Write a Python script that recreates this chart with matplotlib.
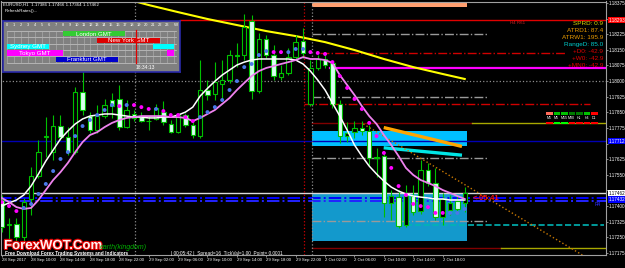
import numpy as np
import matplotlib
matplotlib.use("Agg")
import matplotlib.pyplot as plt
import matplotlib.transforms as mtransforms
import matplotlib.patheffects as pe
from matplotlib.patches import Rectangle

plt.rcParams['font.family'] = ['Liberation Sans', 'DejaVu Sans']

# EURUSD H1, bar 0 = 28 Sep 2017 06:00
opens = [1.17429, 1.17309, 1.17314, 1.17251, 1.17434, 1.17544, 1.17731, 1.17659, 1.17784, 1.17731,
         1.17659, 1.17947, 1.17832, 1.17765, 1.17832, 1.17909, 1.17914, 1.17779, 1.17842, 1.17827,
         1.17808, 1.17818, 1.17851, 1.17794, 1.17755, 1.17837, 1.17789, 1.17736, 1.17957, 1.17938,
         1.17986, 1.18005, 1.18125, 1.18125, 1.18288, 1.17952, 1.18202, 1.18125, 1.18019, 1.18039,
         1.18115, 1.18192, 1.17890, 1.18063, 1.18106, 1.18087, 1.17890, 1.17736, 1.17755, 1.17775,
         1.17760, 1.17631, 1.17640, 1.17415, 1.17443, 1.17309, 1.17448, 1.17376, 1.17573, 1.17511,
         1.17347, 1.17381, 1.17424, 1.17415]
highs = [1.17453, 1.17343, 1.17343, 1.17439, 1.17587, 1.17717, 1.17827, 1.17837, 1.17837, 1.17779,
         1.17971, 1.18053, 1.17851, 1.17885, 1.17914, 1.17943, 1.17981, 1.17909, 1.17861, 1.17851,
         1.17832, 1.17890, 1.17904, 1.17813, 1.17847, 1.17847, 1.17813, 1.18101, 1.18005, 1.18091,
         1.18101, 1.18149, 1.18183, 1.18322, 1.18317, 1.18231, 1.18221, 1.18173, 1.18077, 1.18159,
         1.18221, 1.18255, 1.18101, 1.18125, 1.18125, 1.18101, 1.17909, 1.17803, 1.17808, 1.17808,
         1.17789, 1.17679, 1.17659, 1.17477, 1.17477, 1.17501, 1.17501, 1.17621, 1.17607, 1.17583,
         1.17463, 1.17453, 1.17453, 1.17491]
lows = [1.17275, 1.17227, 1.17213, 1.17213, 1.17357, 1.17535, 1.17635, 1.17621, 1.17717, 1.17645,
        1.17650, 1.17837, 1.17751, 1.17751, 1.17823, 1.17823, 1.17765, 1.17775, 1.17808, 1.17803,
        1.17765, 1.17813, 1.17789, 1.17751, 1.17751, 1.17779, 1.17727, 1.17727, 1.17909, 1.17909,
        1.17909, 1.17991, 1.18067, 1.18101, 1.17914, 1.17943, 1.18111, 1.18005, 1.18005, 1.18029,
        1.18101, 1.18111, 1.17880, 1.18053, 1.18063, 1.17871, 1.17703, 1.17708, 1.17727, 1.17741,
        1.17597, 1.17539, 1.17347, 1.17333, 1.17295, 1.17299, 1.17357, 1.17362, 1.17496, 1.17333,
        1.17309, 1.17357, 1.17371, 1.17371]
closes = [1.17299, 1.17314, 1.17251, 1.17419, 1.17544, 1.17659, 1.17736, 1.17784, 1.17731, 1.17659,
          1.17947, 1.17861, 1.17765, 1.17832, 1.17885, 1.17880, 1.17779, 1.17861, 1.17823, 1.17808,
          1.17806, 1.17871, 1.17803, 1.17755, 1.17837, 1.17789, 1.17741, 1.17957, 1.17933, 1.17995,
          1.18005, 1.18125, 1.18122, 1.18259, 1.17952, 1.18202, 1.18125, 1.18024, 1.18039, 1.18115,
          1.18187, 1.18135, 1.18063, 1.18106, 1.18077, 1.17890, 1.17736, 1.17751, 1.17775, 1.17760,
          1.17631, 1.17635, 1.17415, 1.17448, 1.17304, 1.17448, 1.17371, 1.17573, 1.17511, 1.17347,
          1.17434, 1.17415, 1.17386, 1.17462]

fast_ma = [1.17400, 1.17415, 1.17429, 1.17453, 1.17496, 1.17554, 1.17616, 1.17669, 1.17722, 1.17760,
           1.17794, 1.17818, 1.17832, 1.17837, 1.17842, 1.17842, 1.17837, 1.17832, 1.17827, 1.17827,
           1.17823, 1.17823, 1.17827, 1.17827, 1.17837, 1.17851, 1.17875, 1.17928, 1.17965, 1.17999,
           1.18029, 1.18053, 1.18077, 1.18091, 1.18101, 1.18106, 1.18106, 1.18106, 1.18106, 1.18106,
           1.18101, 1.18082, 1.18048, 1.18005, 1.17957, 1.17895, 1.17832, 1.17765, 1.17693, 1.17640,
           1.17592, 1.17554, 1.17520, 1.17491, 1.17472, 1.17458, 1.17448, 1.17443, 1.17439, 1.17434,
           1.17434, 1.17429, 1.17429, 1.17429]
slow_ma = [1.17439, 1.17419, 1.17395, 1.17386, 1.17391, 1.17429, 1.17477, 1.17525, 1.17563, 1.17607,
           1.17659, 1.17707, 1.17741, 1.17755, 1.17779, 1.17799, 1.17813, 1.17823, 1.17827, 1.17832,
           1.17832, 1.17832, 1.17832, 1.17827, 1.17827, 1.17823, 1.17808, 1.17823, 1.17842, 1.17861,
           1.17890, 1.17919, 1.17957, 1.17991, 1.18024, 1.18048, 1.18063, 1.18072, 1.18082, 1.18091,
           1.18101, 1.18115, 1.18106, 1.18106, 1.18101, 1.18087, 1.18029, 1.17981, 1.17933, 1.17880,
           1.17832, 1.17794, 1.17741, 1.17693, 1.17640, 1.17583, 1.17549, 1.17525, 1.17511, 1.17496,
           1.17477, 1.17463, 1.17448, 1.17434]
dots = [1.17419, 1.17400, 1.17376, 1.17391, 1.17410, 1.17458, 1.17506, 1.17568, 1.17626, 1.17659,
        1.17736, 1.17784, 1.17813, 1.17837, 1.17861, 1.17885, 1.17880, 1.17885, 1.17885, 1.17875,
        1.17866, 1.17866, 1.17856, 1.17837, 1.17837, 1.17827, 1.17808, 1.17827, 1.17851, 1.17875,
        1.17909, 1.17957, 1.18000, 1.18067, 1.18082, 1.18125, 1.18144, 1.18139, 1.18139, 1.18139,
        1.18154, 1.18154, 1.18139, 1.18135, 1.18130, 1.18091, 1.18024, 1.17967, 1.17914, 1.17866,
        1.17799, 1.17736, 1.17655, 1.17583, 1.17496, 1.17453, 1.17410, 1.17400, 1.17395, 1.17367,
        1.17367, 1.17367, 1.17367, 1.17386]
# U = blue dot, D = magenta dot
dot_side = ("DDD" + "UUUUUUUUUUUUU" + "D" + "U" + "DDD" + "U" + "DDDDD" + "UUUUUUUUUU"
            + "DD" + "UUU" + "DDDDDDDDDDDDDDDDDDD" + "UUU")

ma_long_bars = [16, 20, 24, 28, 32, 36, 40, 44, 48, 52, 56, 60, 63]
ma_long_vals = [1.18403, 1.18365, 1.18331, 1.18298, 1.18269, 1.18240, 1.18216, 1.18187,
                1.18149, 1.18106, 1.18067, 1.18034, 1.18010]

time_labels = ["28 Sep 2017", "28 Sep 10:00", "28 Sep 14:00", "28 Sep 18:00", "28 Sep 22:00",
               "29 Sep 02:00", "29 Sep 06:00", "29 Sep 10:00", "29 Sep 14:00", "29 Sep 18:00",
               "29 Sep 22:00", "2 Oct 02:00", "2 Oct 06:00", "2 Oct 10:00", "2 Oct 14:00",
               "2 Oct 18:00"]
price_ticks = [1.18375, 1.18300, 1.18225, 1.18150, 1.18075, 1.18000, 1.17925, 1.17850, 1.17775,
               1.17700, 1.17625, 1.17550, 1.17475, 1.17400, 1.17325, 1.17250, 1.17175]
price_tick_labels = ["1.18375", "", "1.18225", "1.18150", "1.18075", "1.18000", "1.17925", "1.17850",
                     "1.17775", "", "1.17625", "1.17550", "", "1.17400", "1.17325", "1.17250", "1.17175"]

# horizontal levels
level_price = [1.18293, 1.18226, 1.18135, 1.18063, 1.18000, 1.17923, 1.17890, 1.17799, 1.17799,
               1.17712, 1.17630, 1.17462, 1.17439, 1.17425, 1.17328, 1.17309, 1.17199, 1.17199]
level_from = [24.3, 42.2, 43.3, 44.7, -1, 42.2, 41.1, 42.2, 64, -1, 42.2, -1, -1, -1, 42.2, 55, 42.2, 68]
level_to = [83, 66, 76.6, 83, 83, 66, 80, 64, 83, 83, 66, 83, 83, 83, 66, 82, 68, 83]
level_color = ['#e00000', '#9a9a9a', '#d00000', '#ff00ff', '#8c8c8c', '#9a9a9a', '#d00000', '#800000',
               '#a8a800', '#0000b4', '#9a9a9a', '#d8d8d8', '#0000ff', '#2222ff', '#9a9a9a', '#00b4b4',
               '#800000', '#a8a800']
level_style = ['-', '-.', '-.', '-', ':', '-.', '-.', '-', '-', '-', '-.', '-', '-.', '-.', '-.', '--', '-', '-']
level_width = [1, 1, 1, 1.6, 0.9, 1, 1, 1, 1, 1, 1, 1, 1.4, 1.4, 1, 1.2, 1, 1]

# zones
zone_low = [1.18357, 1.17688, 1.17232]
zone_high = [1.18384, 1.17760, 1.17458]
zone_from = [42.2, 42.2, 42.2]
zone_to = [63.3, 63.3, 63.3]
zone_color = ['#ff9f70', '#00bfff', '#1399cc']

# trend lines
trend_x0 = [52.2, 52.2, 49.2]
trend_x1 = [62.4, 62.4, 79.0]
trend_p0 = [1.17775, 1.17679, 1.17794]
trend_p1 = [1.17688, 1.17645, 1.17165]
trend_color = ['#ffa500', '#00e5e5', '#c87800']
trend_style = ['-', '-', ':']
trend_width = [2.4, 2.4, 1.0]

vline_bars = [18.13, 41.1, 42.2]
vline_color = ['#8c8c8c', '#d00000', '#8c8c8c']

# price labels on the axis
tag_price = [1.18293, 1.17712, 1.17462, 1.17432]
tag_text = ['1.18293', '1.17712', '1.17462', '1.17432']
tag_face = ['#ff0000', '#0000ff', '#ffffff', '#0000ff']
tag_fg = ['white', 'white', 'black', 'white']

# info panel texts
info_text = ['SPRD: 0.9', 'ATRD1: 87.4', 'ATRW1: 195.9', 'RangeD: 85.0', '+D0: -42.9', '+W0: -42.9', '+MN0: -42.9']
info_color = ['#d8d800', '#e89a00', '#e89a00', '#00cccc', '#e00000', '#e00000', '#e00000']

# session indicator
session_names = ['London GMT', 'New York GMT', 'Sydney GMT', 'Tokyo GMT', 'Frankfurt GMT']
session_open = [8, 13, 21, 23, 7]
session_close = [17, 22, 6, 8, 16]
session_color = ['#33cc33', '#dd0000', '#00ffff', '#ff00ff', '#0000cc']
now_hour = 18.57

tf_names = ['M1', 'M5', 'M15', 'M30', 'H1', 'H4', 'D1']
tf_top = ['#ff6a5a', '#00c000', '#00c000', '#007a00', '#007a00', '#00c000', '#ff0000']
tf_bottom = ['#ff0000', '#00ff00', '#00ff00', '#ff0000', '#ff0000', '#ff0000', '#ff0000']

W, H = 625, 268
fig = plt.figure(figsize=(W / 100, H / 100), dpi=100, facecolor='black')
ax = fig.add_axes([1 / W, (H - 255) / H, 605 / W, 253.5 / H], facecolor='black')

green = '#00c000'
x = np.arange(len(opens))
o = np.array(opens)
c = np.array(closes)
bull = c >= o

for lo, hi, a, b, col in zip(zone_low, zone_high, zone_from, zone_to, zone_color):
    ax.add_patch(Rectangle((a, lo), b - a, hi - lo, facecolor=col, edgecolor='none', zorder=1))
for p, a, b, col, ls, lw in zip(level_price, level_from, level_to, level_color, level_style, level_width):
    ax.plot([a, b], [p, p], color=col, ls=ls, lw=lw, zorder=1.5)
for vb, col in zip(vline_bars, vline_color):
    ax.axvline(vb, color=col, ls=':', lw=0.9, zorder=1.5)
for a, b, p0, p1, col, ls, lw in zip(trend_x0, trend_x1, trend_p0, trend_p1, trend_color, trend_style, trend_width):
    ax.plot([a, b], [p0, p1], color=col, ls=ls, lw=lw, zorder=2)

ax.vlines(x, lows, highs, color=green, lw=0.8, zorder=3)
ax.bar(x[bull], (c - o)[bull], bottom=o[bull], width=0.6, color='black', edgecolor=green, lw=0.8, zorder=3.1)
ax.bar(x[~bull], (o - c)[~bull], bottom=c[~bull], width=0.6, color='#d8fff0', edgecolor=green, lw=0.8, zorder=3.1)

ax.plot(ma_long_bars, ma_long_vals, color='#ffff00', lw=1.5, zorder=2.5)
ax.plot(x, fast_ma, color='white', lw=1.1, zorder=4)
ax.plot(x, slow_ma, color='#ee82ee', lw=1.3, zorder=4)
dot_cols = ['#4a78e8' if s == 'U' else '#ff00ff' for s in dot_side]
ax.scatter(x, dots, s=8, c=dot_cols, marker='o', linewidths=0, zorder=5)

ax.set_xlim(-0.095, 82.22)
ax.set_ylim(1.17165, 1.18382)
ax.set_xticks(range(0, 4 * len(time_labels), 4))
ax.set_xticklabels(time_labels, ha='left', fontsize=3.1, color='white')
ax.yaxis.tick_right()
ax.set_yticks(price_ticks)
ax.set_yticklabels(price_tick_labels, fontsize=3.3, color='white')
ax.tick_params(axis='both', colors='#a0a0a0', length=1.5, width=0.6, pad=0.6, labelcolor='white')
for s in ax.spines.values():
    s.set_color('#a0a0a0')
    s.set_linewidth(0.8)

trans = mtransforms.blended_transform_factory(ax.transAxes, ax.transData)
for p, t, fc, tc in zip(tag_price, tag_text, tag_face, tag_fg):
    ax.text(1.004, p, t, transform=trans, ha='left', va='center', fontsize=3.3, color=tc,
            clip_on=False, zorder=8, bbox=dict(facecolor=fc, edgecolor='none', pad=0.5))

# overlay in pixel coordinates
ov = fig.add_axes([0, 0, 1, 1], zorder=10)
ov.set_xlim(0, W)
ov.set_ylim(H, 0)
ov.axis('off')
ov.patch.set_visible(False)

ov.text(3, 5, 'EURUSD,H1  1.17386 1.17466 1.17364 1.17462', color='white', fontsize=3.2, va='center')
ov.text(5, 11, 'RefreshRates()...', color='white', fontsize=3.2, va='center')
for i, (t, col) in enumerate(zip(info_text, info_color)):
    ov.text(603, 23.5 + 7 * i, t, color=col, fontsize=4.6, ha='right', va='center')
ov.text(510, 23.5, 'H4 R61', color='#d02020', fontsize=3.2, va='center')
ov.text(473, 198, '<-05:41', color='#ff1010', fontsize=5.5, va='center', fontweight='bold')
ov.text(595, 204, 'R4', color='#3030ff', fontsize=3.5, va='center')

for i, name in enumerate(tf_names):
    x0 = 546 + 7.5 * i
    ov.add_patch(Rectangle((x0, 112), 6.5, 2.5, facecolor=tf_top[i], edgecolor='none'))
    ov.add_patch(Rectangle((x0, 121.5), 6.5, 2.5, facecolor=tf_bottom[i], edgecolor='none'))
    ov.text(x0 + 3.25, 117.8, name, color='white', fontsize=2.6, ha='center', va='center')

ov.text(4, 246, 'ForexWOT.Com', color='#fff0f0', fontsize=9.5, fontweight='bold', va='center',
        path_effects=[pe.Stroke(linewidth=1.6, foreground='#e00000'), pe.Normal()])
ov.text(100, 247.5, 'earth(kingdom)', color='#00b000', fontsize=5, style='italic', va='center')
ov.text(5, 253.5, 'Free Download Forex Trading Systems and Indicators', color='white', fontsize=3.4,
        fontweight='bold', va='center')
ov.text(171, 253.5, '| 00:05:42 |  Spread=16  TickVal=1.00  Point= 0.0001', color='white',
        fontsize=3.4, va='center')

# session indicator panel
sp = fig.add_axes([3 / W, (H - 72) / H, 177 / W, 51 / H], zorder=11, facecolor='#808080')
sp.set_xlim(-0.62, 24.92)
sp.set_ylim(6.46, -1.57)
sp.set_xticks([])
sp.set_yticks([])
for s in sp.spines.values():
    s.set_color('#2a2aa8')
    s.set_linewidth(1.2)
for r in range(6):
    sp.plot([0, 24.4], [r, r], color='#c8c8c8', lw=0.5, zorder=1)
for h in range(25):
    sp.plot([h, h], [0, 5], color='#b4b4b4', lw=0.4, zorder=1)
for h in range(24):
    sp.text(h, -0.9, str(h), color='white', fontsize=2.9, ha='center', va='center')
sp.text(24.4, -0.9, 'W', color='white', fontsize=3.2, ha='center', va='center')
for r, (name, a, b, col) in enumerate(zip(session_names, session_open, session_close, session_color)):
    if a < b:
        segs = [(a, b)]
    else:
        segs = [(0, b), (a, 24)]
    for s0, s1 in segs:
        sp.add_patch(Rectangle((s0, r + 0.05), s1 - s0, 0.82, facecolor=col, edgecolor='none', zorder=2))
    m0, m1 = segs[0]
    sp.text((m0 + m1) / 2, r + 0.48, name, color='white', fontsize=4.4, ha='center', va='center', zorder=3)
sp.plot([now_hour, now_hour], [-0.2, 5.1], color='#e00000', lw=0.9, zorder=4)
sp.text(now_hour, 5.8, '18:34:13', color='white', fontsize=3.6, ha='left', va='center')

fig.savefig('out.png', dpi=100, facecolor='black')
